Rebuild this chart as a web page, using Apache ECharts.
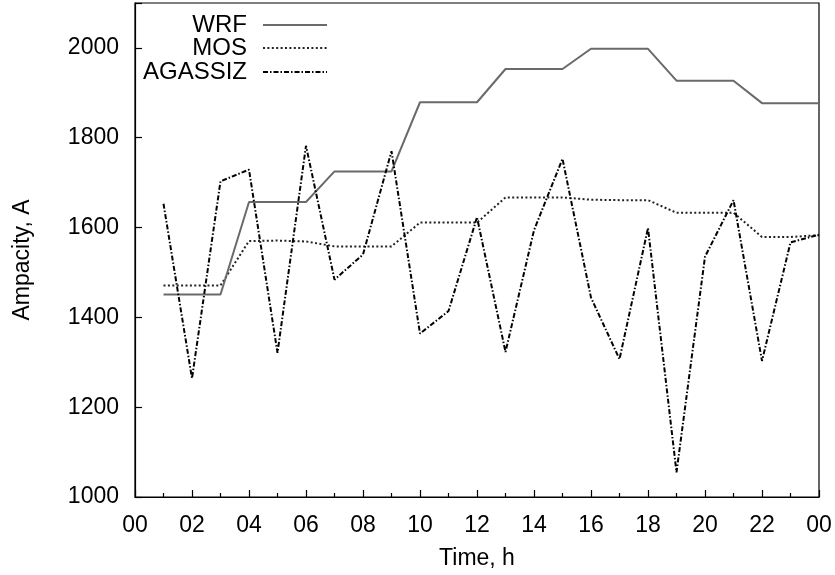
<!DOCTYPE html>
<html>
<head>
<meta charset="utf-8">
<script src="https://cdn.jsdelivr.net/npm/echarts@6/dist/echarts.min.js"></script>
<style>html,body{margin:0;padding:0;background:#fff}#c{width:835px;height:575px}</style>
</head>
<body>
<div id="c"></div>
<script>
const hours = [1,2,3,4,5,6,7,8,9,10,11,12,13,14,15,16,17,18,19,20,21,22,23,24];
const wrf = [1451,1451,1451,1657,1657,1657,1725,1725,1725,1879,1879,1879,1953,1953,1953,1998,1998,1998,1927,1927,1927,1877,1877,1877];
const mos = [1471,1471,1471,1570,1571,1569,1558,1558,1558,1611,1611,1611,1667,1667,1667,1662,1661,1661,1633,1633,1633,1579,1579,1583];
const agassiz = [1653,1264,1703,1729,1321,1782,1484,1540,1770,1364,1414,1623,1323,1594,1753,1444,1307,1599,1055,1535,1661,1303,1567,1584];
const xTickLabels = ['00','02','04','06','08','10','12','14','16','18','20','22','00'];
const yTickLabels = ['1000','1200','1400','1600','1800','2000'];
const seriesNames = ['WRF','MOS','AGASSIZ'];

const FONT = "'Liberation Sans', Arial, Helvetica, sans-serif";
const chart = echarts.init(document.getElementById('c'), null, {renderer: 'canvas'});
const pairs = arr => hours.map((h, i) => [h, arr[i]]);

const lineStyles = [
  {color: '#6a6a6a', width: 2, type: 'solid'},
  {color: '#222222', width: 2, type: [2, 2.4]},
  {color: '#000000', width: 2, type: [5, 2, 1.5, 2]}
];
const legendTops = [13, 36, 60];

const option = {
  animation: false,
  backgroundColor: '#fff',
  grid: {left: 135, right: 16, top: 3, bottom: 77, show: true, borderColor: '#000', borderWidth: 1.2, containLabel: false},
  legend: seriesNames.map((n, i) => ({
    data: [n], orient: 'vertical', align: 'right', right: 507, top: legendTops[i],
    padding: 0, itemWidth: 64, itemHeight: 14, selectedMode: false,
    itemStyle: {opacity: 0},
    textStyle: {fontFamily: FONT, fontSize: 24, color: '#000', padding: [0, 11, 0, 0]}
  })),
  xAxis: {
    type: 'value', min: 0, max: 24, interval: 2,
    axisLine: {lineStyle: {color: '#000', width: 1.2}},
    axisTick: {inside: true, length: 7, lineStyle: {color: '#000', width: 1.2}},
    minorTick: {show: true, splitNumber: 2, length: 4, lineStyle: {color: '#000', width: 1.2}},
    splitLine: {show: false},
    axisLabel: {fontFamily: FONT, fontSize: 23, color: '#000', margin: 17,
      formatter: v => xTickLabels[Math.round(v / 2)] || ''},
    name: 'Time, h', nameLocation: 'middle', nameGap: 50,
    nameTextStyle: {fontFamily: FONT, fontSize: 23, color: '#000'}
  },
  yAxis: {
    type: 'value', min: 1000, max: 2100, interval: 200,
    axisLine: {lineStyle: {color: '#000', width: 1.2}},
    axisTick: {inside: true, length: 7, lineStyle: {color: '#000', width: 1.2}},
    splitLine: {show: false},
    axisLabel: {fontFamily: FONT, fontSize: 23, color: '#000', margin: 16,
      formatter: v => (v % 200 === 0 ? yTickLabels[(v - 1000) / 200] || '' : '')}
  },
  graphic: [{
    type: 'text', x: 23, y: 260, rotation: Math.PI / 2,
    style: {text: 'Ampacity, A', font: '23px ' + FONT, fill: '#000', textAlign: 'center', textVerticalAlign: 'middle'}
  }],
  series: [
    {name: seriesNames[0], type: 'line', data: pairs(wrf), showSymbol: false, symbol: 'none', lineStyle: lineStyles[0], itemStyle: {color: lineStyles[0].color}, z: 3},
    {name: seriesNames[1], type: 'line', data: pairs(mos), showSymbol: false, symbol: 'none', lineStyle: lineStyles[1], itemStyle: {color: lineStyles[1].color}, z: 2},
    {name: seriesNames[2], type: 'line', data: pairs(agassiz), showSymbol: false, symbol: 'none', lineStyle: lineStyles[2], itemStyle: {color: lineStyles[2].color}, z: 4}
  ]
};
chart.setOption(option);
</script>
</body>
</html>
